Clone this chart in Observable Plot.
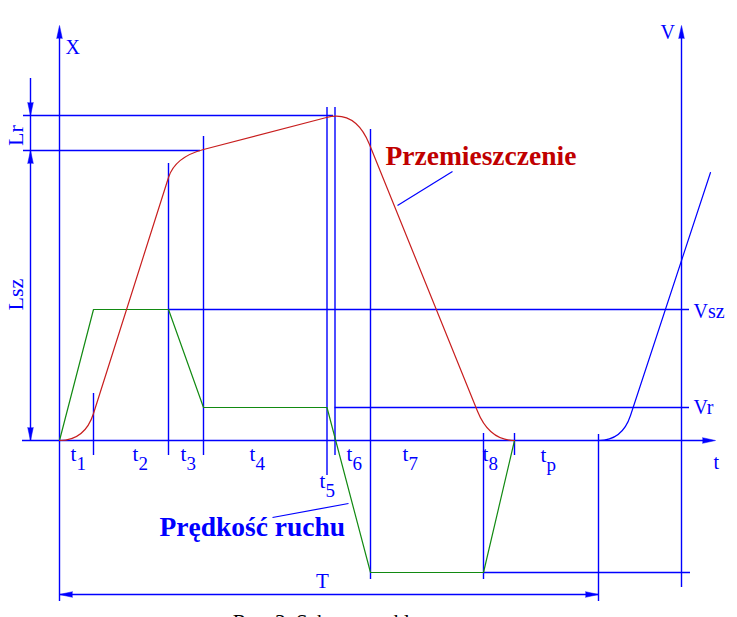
<!DOCTYPE html>
<html><head><meta charset="utf-8">
<script src="https://cdn.jsdelivr.net/npm/d3@7"></script>
<script src="https://cdn.jsdelivr.net/npm/@observablehq/plot@0.6"></script>
<style>html,body{margin:0;padding:0;background:#fff;overflow:hidden}svg{display:block}</style>
</head><body><div id="chart"></div>
<script>
// ---- phase boundaries along the time axis (0 = start of cycle) ----
const phaseEnds = [0, 34, 109, 144, 267.5, 275.5, 311, 424, 455, 539];
const phaseSubs = ["1", "2", "3", "4", "5", "6", "7", "8", "p"];
const phaseLabelT = [11, 73, 121, 190, 260, 287, 343, 423, 481];
const phaseLabelV = [-20, -20, -20, -20, -47, -20, -20, -20, -21];

// ---- levels ----
const Lsz = 290, Lr = 35;             // displacement levels
const Vsz = 131, Vr = 33, Vback = -132; // velocity levels
const cycleT = 539, vAxisT = 622;

// ---- displacement (Przemieszczenie): start point then [control, end] pairs ----
const dispT = [0, 25.4, 34, 34, 109, 115.5, 144, 144, 267, 296, 310, 310, 418, 429.8, 455];
const dispV = [0, 0, 27, 27, 263, 283.4, 291, 291, 323, 330.5, 296, 296, 29.2, 0, 0];

// ---- velocity (Prędkość ruchu) ----
const velT = [0, 34, 109, 144, 267.5, 311, 424, 455];
const velV = [0, Vsz, Vsz, Vr, Vr, Vback, Vback, 0];

// ---- start of next cycle (blue) ----
const nextT = [539, 562.8, 571, 571, 651];
const nextV = [0, 0, 25, 25, 268];

// ---- guide lines ----
const vGuideT = [34, 109, 144, 267.5, 275.5, 311, 424, 455, 539];
const vGuideTop = [47, 277, 304, 333, 333, 311, 7, 7, 6];
const vGuideBottom = [-15, -15, -15, -35, -15, -139, -139, -15, -161];

const hGuideV = [Lsz + Lr, Lsz, Vsz, Vr, Vback];
const hGuideFrom = [-36, -36, 109, 275.5, 424];
const hGuideTo = [274, 141, 630, 630, 631];

// ---- labels ----
const startLabels = ["X", "V", "t", "Vsz", "Vr"];
const startLabelT = [6, 601, 654, 634, 634];
const startLabelV = [387, 402, -28, 123, 27];
const rotLabels = ["Lr", "Lsz"];
const rotLabelV = [305, 146];

const idx = n => d3.range(n);

// quadratic-spline curve: point, then (control, end) pairs
function quadSpline(context) {
  let pts = [];
  return {
    areaStart() {}, areaEnd() {},
    lineStart() { pts = []; },
    point(x, y) { pts.push([+x, +y]); },
    lineEnd() {
      if (!pts.length) return;
      context.moveTo(pts[0][0], pts[0][1]);
      for (let i = 1; i + 1 < pts.length; i += 2)
        context.quadraticCurveTo(pts[i][0], pts[i][1], pts[i + 1][0], pts[i + 1][1]);
    }
  };
}

const blue = "#0000ff", red = "#c81e1e", green = "#128a12";
const serif = "Liberation Serif, Times New Roman, serif";

const arrows = [
  {t: 0, v: 415, r: 0}, {t: vAxisT, v: 415, r: 0}, {t: 656, v: 0, r: 90},
  {t: -29, v: Lsz + Lr, r: 180}, {t: -29, v: Lsz, r: 0}, {t: -29, v: 0, r: 180},
  {t: 0, v: -154, r: 270}, {t: cycleT, v: -154, r: 90}
];

const chart = Plot.plot({
  width: 737, height: 617, margin: 0,
  x: {domain: [-59, 678], axis: null},
  y: {domain: [-177, 440], axis: null},
  style: {fontFamily: serif, background: "#fff", overflow: "visible"},
  marks: [
    // axes & dimension lines
    Plot.ruleY([0], {x1: -37, x2: 650, stroke: blue, strokeWidth: 1.4}),
    Plot.ruleX([0], {y1: -161, y2: 408, stroke: blue, strokeWidth: 1.4}),
    Plot.ruleX([vAxisT], {y1: -147, y2: 408, stroke: blue, strokeWidth: 1.4}),
    Plot.ruleX([-29], {y1: 0, y2: 362, stroke: blue, strokeWidth: 1.4}),
    Plot.ruleY([-154], {x1: 0, x2: cycleT, stroke: blue, strokeWidth: 1.4}),
    Plot.ruleX(idx(vGuideT.length), {x: i => vGuideT[i], y1: i => vGuideBottom[i], y2: i => vGuideTop[i], stroke: blue, strokeWidth: 1.4}),
    Plot.ruleY(idx(hGuideV.length), {y: i => hGuideV[i], x1: i => hGuideFrom[i], x2: i => hGuideTo[i], stroke: blue, strokeWidth: 1.4}),
    Plot.vector(arrows, {x: "t", y: "v", rotate: "r", length: 13, r: 2.8, shape: "spike", anchor: "end", fill: blue, stroke: blue, strokeWidth: 0.5}),
    // curves
    Plot.line(idx(velT.length), {x: i => velT[i], y: i => velV[i], stroke: green, strokeWidth: 1.2}),
    Plot.line(idx(dispT.length), {x: i => dispT[i], y: i => dispV[i], curve: quadSpline, stroke: red, strokeWidth: 1.2}),
    Plot.line(idx(nextT.length), {x: i => nextT[i], y: i => nextV[i], curve: quadSpline, stroke: blue, strokeWidth: 1.2}),
    // leader lines
    Plot.link([0], {x1: 338, y1: 235, x2: 393, y2: 269, stroke: blue, strokeWidth: 1.2}),
    Plot.link([0], {x1: 213, y1: -77, x2: 289, y2: -63, stroke: blue, strokeWidth: 1.2}),
    // phase labels t_i
    Plot.text(idx(phaseSubs.length), {x: i => phaseLabelT[i], y: i => phaseLabelV[i], text: () => "t", textAnchor: "start", lineAnchor: "bottom", fill: blue, fontSize: 21}),
    Plot.text(idx(phaseSubs.length), {x: i => phaseLabelT[i], y: i => phaseLabelV[i], text: i => phaseSubs[i], dx: 6, dy: 9, textAnchor: "start", lineAnchor: "bottom", fill: blue, fontSize: 19}),
    // axis labels
    Plot.text(idx(startLabels.length), {x: i => startLabelT[i], y: i => startLabelV[i], text: i => startLabels[i], textAnchor: "start", lineAnchor: "bottom", fill: blue, fontSize: 20}),
    Plot.text(["T"], {x: 263, y: -147, text: d => d, textAnchor: "middle", lineAnchor: "bottom", fill: blue, fontSize: 21}),
    Plot.text(idx(rotLabels.length), {x: -37, y: i => rotLabelV[i], text: i => rotLabels[i], rotate: -90, textAnchor: "middle", lineAnchor: "bottom", fill: blue, fontSize: 22}),
    // series names
    Plot.text(["Przemieszczenie"], {x: 326, y: 276, text: d => d, textAnchor: "start", lineAnchor: "bottom", fill: "#c00000", fontSize: 27.5, fontWeight: "bold"}),
    Plot.text(["Prędkość ruchu"], {x: 100, y: -95, text: d => d, textAnchor: "start", lineAnchor: "bottom", fill: blue, fontSize: 27.5, fontWeight: "bold"}),
    // caption (cut off at bottom edge, as in the reference)
    Plot.text(["Rys. 3. Schemat cyklu pracy"], {x: 293, y: -188.5, text: d => d, textAnchor: "middle", lineAnchor: "bottom", fill: "#000", fontSize: 21})
  ]
});
document.getElementById("chart").appendChild(chart);
</script>
</body></html>
